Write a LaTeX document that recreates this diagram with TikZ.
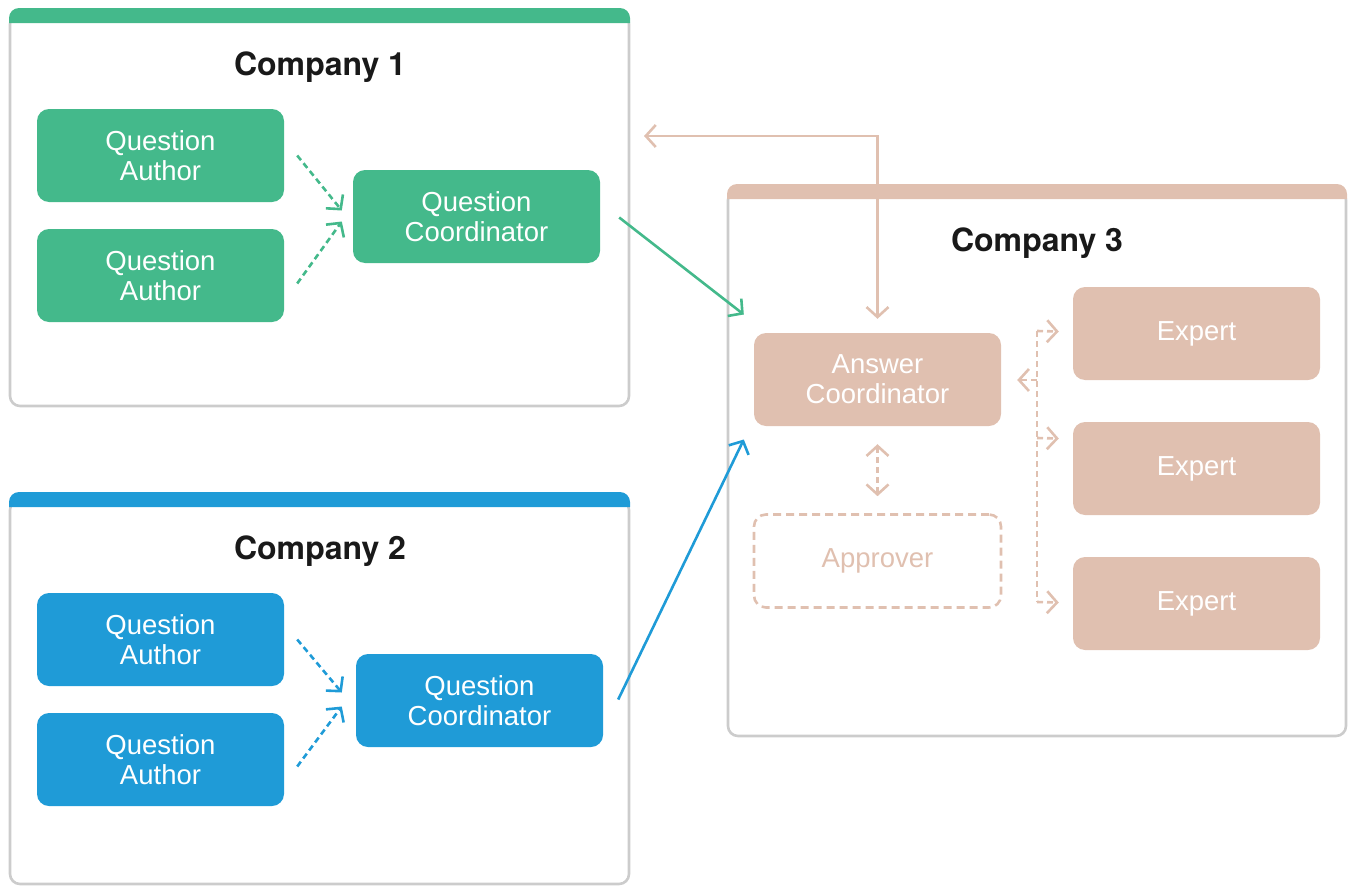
\documentclass[tikz,border=0pt]{standalone}
\usepackage{fontspec}
\setmainfont{Liberation Sans}
\newfontfamily\titlefont{TeX Gyre Heros}
\usetikzlibrary{arrows.meta,calc}
\definecolor{cgreen}{HTML}{44B98B}
\definecolor{cblue}{HTML}{1F9BD7}
\definecolor{ctan}{HTML}{E0C0B0}
\definecolor{cgray}{HTML}{CCCCCC}
\tikzset{
  tip/.tip={Straight Barb[length=10pt,width=22pt,line width=2.6pt]},
  card/.style={rounded corners=12pt, minimum width=247pt, minimum height=93pt, align=center, text=white, inner sep=0pt, font=\fontsize{27.5}{30}\selectfont},
  gcard/.style={card, fill=cgreen},
  bcard/.style={card, fill=cblue},
  tcard/.style={card, fill=ctan},
  apprbox/.style={card, draw=ctan, line width=2.6pt, dash pattern=on 8pt off 5pt, text=ctan},
  frame/.style={draw=cgray, line width=2.6pt, rounded corners=10pt},
  ttl/.style={font=\titlefont\bfseries\fontsize{32}{36}\selectfont, text=black!90},
  arr/.style={line width=2.6pt, -tip},
  darr/.style={arr, dash pattern=on 6pt off 4pt},
}
\begin{document}
\begin{tikzpicture}[x=1pt,y=-1pt]
\useasboundingbox (0,0) rectangle (1350,886);
% Company 1
\draw[frame] (10,14) rectangle (629,406);
\fill[cgreen] (9,23) [rounded corners=10pt] -- (9,8) -- (630,8) [sharp corners] -- (630,23) -- cycle;
\node[ttl] (t1) at (320,67) {Company 1};
\node[gcard] (qa1) at (160.5,155.5) {Question\\Author};
\node[gcard] (qa2) at (160.5,275.5) {Question\\Author};
\node[gcard] (qc1) at (476.5,216.5) {Question\\Coordinator};
% Company 2
\draw[frame] (10,500) rectangle (629,884);
\fill[cblue] (9,507) [rounded corners=10pt] -- (9,492) -- (630,492) [sharp corners] -- (630,507) -- cycle;
\node[ttl] (t2) at (320,551) {Company 2};
\node[bcard] (qa3) at (160.5,639.5) {Question\\Author};
\node[bcard] (qa4) at (160.5,759.5) {Question\\Author};
\node[bcard] (qc2) at (479.5,700.5) {Question\\Coordinator};
% Company 3
\draw[frame] (728,190) rectangle (1346,736);
\fill[ctan] (727,199) [rounded corners=10pt] -- (727,184) -- (1347,184) [sharp corners] -- (1347,199) -- cycle;
\node[ttl] (t3) at (1037,243) {Company 3};
\node[tcard] (ac) at (877.5,379.5) {Answer\\Coordinator};
\node[apprbox] (ap) at (877.5,561) {Approver};
\node[tcard] (ex1) at (1196.5,333.5) {Expert};
\node[tcard] (ex2) at (1196.5,468.5) {Expert};
\node[tcard] (ex3) at (1196.5,603.5) {Expert};
% connectors company 1
\draw[darr, cgreen] ($(qa1.east)+(13,0)$) -- ($(qc1.west)+(-11,-6)$);
\draw[darr, cgreen] ($(qa2.east)+(13,8)$) -- ($(qc1.west)+(-11,5)$);
\coordinate (in1) at ($(ac.west)+(-10,-65)$);
\draw[arr, cgreen] ($(qc1.east)+(19,1)$) -- (in1);
% connectors company 2
\draw[darr, cblue] ($(qa3.east)+(13,0)$) -- ($(qc2.west)+(-14,-8)$);
\draw[darr, cblue] ($(qa4.east)+(13,7)$) -- ($(qc2.west)+(-14,6)$);
\coordinate (in2) at ($(ac.west)+(-10,60)$);
\draw[arr, cblue] ($(qc2.east)+(15,-1)$) -- (in2);
% company 3 connectors
\coordinate (ret) at (644,136);
\draw[arr, ctan, tip-tip] (ret) -| ($(ac.north)+(0,-14)$);
\draw[darr, ctan, tip-tip] ($(ac.south)+(0,18)$) -- ($(ap.north)+(0,-17)$);
\coordinate (bt) at (1037,331);
\coordinate (bb) at (1037,602);
\draw[ctan, line width=2.6pt, dash pattern=on 6pt off 4pt] (bt) -- (bb);
\draw[darr, ctan] (bt) -- ($(ex1.west)+(-14,-2)$);
\draw[darr, ctan] (1037,380) -- ($(ac.east)+(16,0.5)$);
\draw[darr, ctan] (1037,438) -- ($(ex2.west)+(-14,-30)$);
\draw[darr, ctan] (bb) -- ($(ex3.west)+(-14,-1)$);
\end{tikzpicture}
\end{document}
